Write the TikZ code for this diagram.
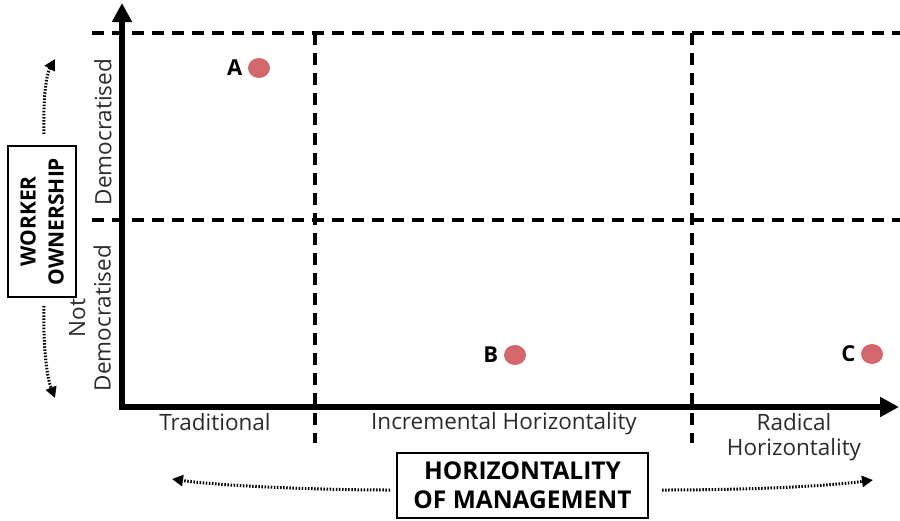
\documentclass[tikz,border=0pt]{standalone}
\usepackage{fontspec}
\setmainfont{Open Sans}
\usetikzlibrary{arrows.meta,positioning,shapes.geometric}
\definecolor{dotc}{HTML}{D2676E}
\definecolor{txt}{HTML}{2B2B2B}
\tikzset{
  axis/.style={line width=5.5pt,-{Triangle[length=19pt,width=19pt]}},
  grid/.style={line width=3.2pt,dash pattern=on 12pt off 8pt},
  dotarrow/.style={line width=3pt,dash pattern=on 1.5pt off 1.6pt,-{Triangle[length=11pt,width=11pt]}},
  lab/.style={font=\fontsize{22.5}{25.5}\selectfont,text=txt,align=center},
  ptlab/.style={font=\fontsize{22}{24}\selectfont\bfseries},
  pt/.style={fill=dotc,ellipse,minimum width=22pt,minimum height=20pt,inner sep=0pt},
  titlebox/.style={draw,line width=1.2pt,align=center,inner sep=3pt}
}
\begin{document}
\begin{tikzpicture}[x=1pt,y=-1pt]
\useasboundingbox (0,0) rectangle (900,520);
% grid
\coordinate (h1l) at (92,33); \coordinate (h1r) at (900,33);
\coordinate (h2l) at (92,220); \coordinate (h2r) at (900,220);
\coordinate (v1t) at (315,33); \coordinate (v1b) at (315,443);
\coordinate (v2t) at (692,33); \coordinate (v2b) at (692,443);
\draw[grid] (h1l) -- (h1r);
\draw[grid] (h2l) -- (h2r);
\draw[grid] (v1t) -- (v1b);
\draw[grid] (v2t) -- (v2b);
% axes
\coordinate (o) at (122,407);
\coordinate (ytop) at (122,3);
\coordinate (xend) at (899,407);
\draw[axis] (o) -- (ytop);
\draw[axis] ([xshift=-2.75pt]o) -- (xend);
% points
\node[pt] (A) at (259,68) {};
\node[pt] (B) at (515,355) {};
\node[pt] (C) at (872,354) {};
\node[ptlab,left=2pt of A] (Al) {A};
\node[ptlab,left=2pt of B] (Bl) {B};
\node[ptlab,left=2pt of C] (Cl) {C};
% y labels
\node[lab,rotate=90] (dem) at (103,132) {Democratised};
\node[lab,rotate=90] (notdem) at (90,318) {Not\\Democratised};
% x labels
\node[lab] (trad) at (215,422) {Traditional};
\node[lab] (inc) at (504,424) {Incremental Horizontality};
\node[lab] (rad) at (794,437) {Radical\\Horizontality};
% title boxes
\node[titlebox,rotate=90,minimum width=151pt,minimum height=68pt,font=\fontsize{21}{28}\selectfont\bfseries] (wo) at (42,221.5) {WORKER\\OWNERSHIP};
\node[titlebox,minimum width=251pt,minimum height=65pt,font=\fontsize{24.5}{29}\selectfont\bfseries] (hm) at (522.5,485.5) {HORIZONTALITY\\OF MANAGEMENT};
% dotted arrows
\coordinate (u1) at (44,134); \coordinate (u2) at (55,59);
\coordinate (d1) at (44,306); \coordinate (d2) at (55,398);
\coordinate (l1) at (390,490); \coordinate (l2) at (172,479);
\coordinate (r1) at (662,490); \coordinate (r2) at (873,480);
\draw[dotarrow] (u1) .. controls (43,100) and (46,75) .. (u2);
\draw[dotarrow] (d1) .. controls (43,340) and (46,375) .. (d2);
\draw[dotarrow] (l1) .. controls (320,490) and (220,486) .. (l2);
\draw[dotarrow] (r1) .. controls (740,490) and (820,487) .. (r2);
\end{tikzpicture}
\end{document}
